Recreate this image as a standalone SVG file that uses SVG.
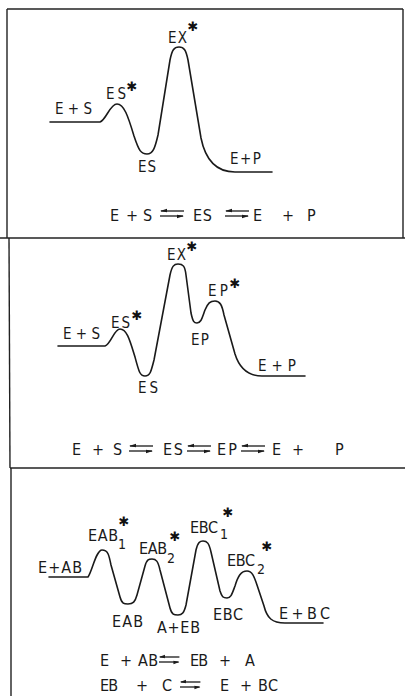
<svg xmlns="http://www.w3.org/2000/svg" xmlns:xlink="http://www.w3.org/1999/xlink" width="405" height="696" viewBox="0 0 405 696">
<style>
.frame{stroke:#222;stroke-width:1.4;fill:none}
.curve{stroke:#1a1a1a;stroke-width:1.6;fill:none;stroke-linecap:round;stroke-linejoin:round}
.lbl{font-family:"DejaVu Sans Condensed","DejaVu Sans",sans-serif;font-size:15px;fill:#1a1a1a}
.lbl3{font-family:"DejaVu Sans Condensed","DejaVu Sans",sans-serif;font-size:16px;fill:#1a1a1a}
.eq{font-family:"DejaVu Sans Condensed","DejaVu Sans",sans-serif;font-size:16px;fill:#1a1a1a}
.sub{font-family:"DejaVu Sans Condensed","DejaVu Sans",sans-serif;font-size:14px;fill:#1a1a1a}
.ast{font-family:"DejaVu Sans",sans-serif;font-size:13px;fill:#111;text-anchor:middle}
.harp{stroke:#1a1a1a;stroke-width:1.3;fill:none}
.head{fill:#1a1a1a}
</style>
<defs>
<g id="eqarrow">
<line class="harp" x1="1" y1="0" x2="24" y2="0"/>
<polygon class="head" points="0,0 7,-2.2 7,1.2"/>
<line class="harp" x1="0" y1="5" x2="23" y2="5"/>
<polygon class="head" points="24,5 17,3.8 17,7.2"/>
</g>
</defs>
<rect width="405" height="696" fill="#ffffff"/>

<g id="frames">
<line class="frame" x1="7" y1="9" x2="403" y2="9"/>
<line class="frame" x1="7" y1="9" x2="7" y2="238"/>
<line class="frame" x1="403" y1="9" x2="403" y2="238"/>
<line class="frame" x1="0" y1="238" x2="405" y2="238"/>
<line class="frame" x1="9" y1="238" x2="10" y2="468"/>
<line class="frame" x1="10" y1="468" x2="405" y2="468"/>
<line class="frame" x1="11" y1="468" x2="11" y2="696"/>
</g>

<g id="panel1">
<path class="curve" d="M50,122 L100,122 C106,120 110,104 117,104 C124,104 128,116 134,136 C139,151 141,154 147,154 C153,154 155,148 158,135 L170,60 C172,50 174,47 179,47 C184,47 186,50 188,60 L201,138 C205,158 215,172 235,172 L272,172"/>
<text class="lbl" x="55" y="114" textLength="37" lengthAdjust="spacing">E+S</text>
<text class="lbl" x="106" y="99" textLength="20" lengthAdjust="spacing">ES</text>
<text class="ast" x="132" y="91">✱</text>
<text class="lbl" x="138" y="172" textLength="18" lengthAdjust="spacing">ES</text>
<text class="lbl" x="168" y="43" textLength="19" lengthAdjust="spacing">EX</text>
<text class="ast" x="193" y="31">✱</text>
<text class="lbl" x="230" y="164" textLength="31" lengthAdjust="spacing">E+P</text>
<text class="eq" x="110" y="221">E</text>
<text class="eq" x="126" y="221">+</text>
<text class="eq" x="143" y="221">S</text>
<use xlink:href="#eqarrow" x="160" y="211"/>
<text class="eq" x="193" y="221" textLength="19" lengthAdjust="spacing">ES</text>
<use xlink:href="#eqarrow" x="225" y="211"/>
<text class="eq" x="253" y="221">E</text>
<text class="eq" x="282" y="221">+</text>
<text class="eq" x="307" y="221">P</text>
</g>

<g id="panel2">
<path class="curve" d="M58,346 L105,346 C111,344 114,329 120,329 C127,329 130,341 135,357 C139,372 140,376 145,376 C150,376 151,372 154,360 L170,275 C172,266 174,264 178,264 C183,264 185,266 186,275 L191,313 C193,322 194,323 197,323 C201,323 202,318 205,310 C208,303 210,301 215,301 C220,301 222,305 224,315 L235,354 C240,370 250,376 262,376 L305,376"/>
<text class="lbl" x="63" y="339" textLength="37" lengthAdjust="spacing">E+S</text>
<text class="lbl" x="111" y="328" textLength="19" lengthAdjust="spacing">ES</text>
<text class="ast" x="137" y="320">✱</text>
<text class="lbl" x="138" y="393" textLength="20" lengthAdjust="spacing">ES</text>
<text class="lbl" x="167" y="260" textLength="19" lengthAdjust="spacing">EX</text>
<text class="ast" x="192" y="251">✱</text>
<text class="lbl" x="208" y="296" textLength="20" lengthAdjust="spacing">EP</text>
<text class="ast" x="235" y="288">✱</text>
<text class="lbl" x="191" y="345" textLength="18" lengthAdjust="spacing">EP</text>
<text class="lbl" x="258" y="371" textLength="38" lengthAdjust="spacing">E+P</text>
<text class="eq" x="72" y="455">E</text>
<text class="eq" x="92" y="455">+</text>
<text class="eq" x="113" y="455">S</text>
<use xlink:href="#eqarrow" x="129" y="446"/>
<text class="eq" x="163" y="455" textLength="20" lengthAdjust="spacing">ES</text>
<use xlink:href="#eqarrow" x="187" y="446"/>
<text class="eq" x="217" y="455" textLength="20" lengthAdjust="spacing">EP</text>
<use xlink:href="#eqarrow" x="241" y="446"/>
<text class="eq" x="272" y="455">E</text>
<text class="eq" x="292" y="455">+</text>
<text class="eq" x="335" y="455">P</text>
</g>

<g id="panel3">
<path class="curve" d="M49,577 L88,577 C92,572 96,550 102,550 C108,550 109,555 111,565 L120,597 C122,604 124,604 128,604 C133,604 135,602 137,595 L145,566 C147,559 149,559 152,559 C156,559 158,561 160,570 L170,608 C172,615 174,615 178,615 C182,615 184,613 186,605 L196,550 C198,542 200,541 203,541 C207,541 209,543 211,552 L220,591 C222,597 223,598 227,598 C231,598 232,594 235,586 C238,576 241,571 247,571 C252,571 254,576 257,585 L264,606 C267,618 272,623 285,623 L323,623"/>
<text class="lbl3" x="38" y="573" textLength="44" lengthAdjust="spacing">E+AB</text>
<text class="lbl3" x="88" y="541" textLength="30" lengthAdjust="spacing">EAB</text>
<text class="sub" x="118" y="549">1</text>
<text class="ast" x="124" y="526">✱</text>
<text class="lbl3" x="139" y="554" textLength="28" lengthAdjust="spacing">EAB</text>
<text class="sub" x="167" y="563">2</text>
<text class="ast" x="175" y="541">✱</text>
<text class="lbl3" x="190" y="533" textLength="28" lengthAdjust="spacing">EBC</text>
<text class="sub" x="220" y="539">1</text>
<text class="ast" x="228" y="517">✱</text>
<text class="lbl3" x="227" y="566" textLength="28" lengthAdjust="spacing">EBC</text>
<text class="sub" x="257" y="574">2</text>
<text class="ast" x="267" y="551">✱</text>
<text class="lbl3" x="112" y="627" textLength="31" lengthAdjust="spacing">EAB</text>
<text class="lbl3" x="157" y="633" textLength="43" lengthAdjust="spacing">A+EB</text>
<text class="lbl3" x="213" y="620" textLength="30" lengthAdjust="spacing">EBC</text>
<text class="lbl3" x="279" y="619" textLength="51" lengthAdjust="spacing">E+BC</text>
<text class="eq" x="100" y="666">E</text>
<text class="eq" x="120" y="666">+</text>
<text class="eq" x="138" y="666" textLength="20" lengthAdjust="spacing">AB</text>
<use xlink:href="#eqarrow" x="159" y="657" transform="translate(159,657) scale(0.85,1) translate(-159,-657)"/>
<text class="eq" x="190" y="666" textLength="18" lengthAdjust="spacing">EB</text>
<text class="eq" x="219" y="666">+</text>
<text class="eq" x="245" y="666">A</text>
<text class="eq" x="100" y="691" textLength="18" lengthAdjust="spacing">EB</text>
<text class="eq" x="136" y="691">+</text>
<text class="eq" x="162" y="691">C</text>
<use xlink:href="#eqarrow" x="180" y="682" transform="translate(180,682) scale(0.85,1) translate(-180,-682)"/>
<text class="eq" x="220" y="691">E</text>
<text class="eq" x="240" y="691">+</text>
<text class="eq" x="258" y="691" textLength="20" lengthAdjust="spacing">BC</text>
</g>
</svg>
